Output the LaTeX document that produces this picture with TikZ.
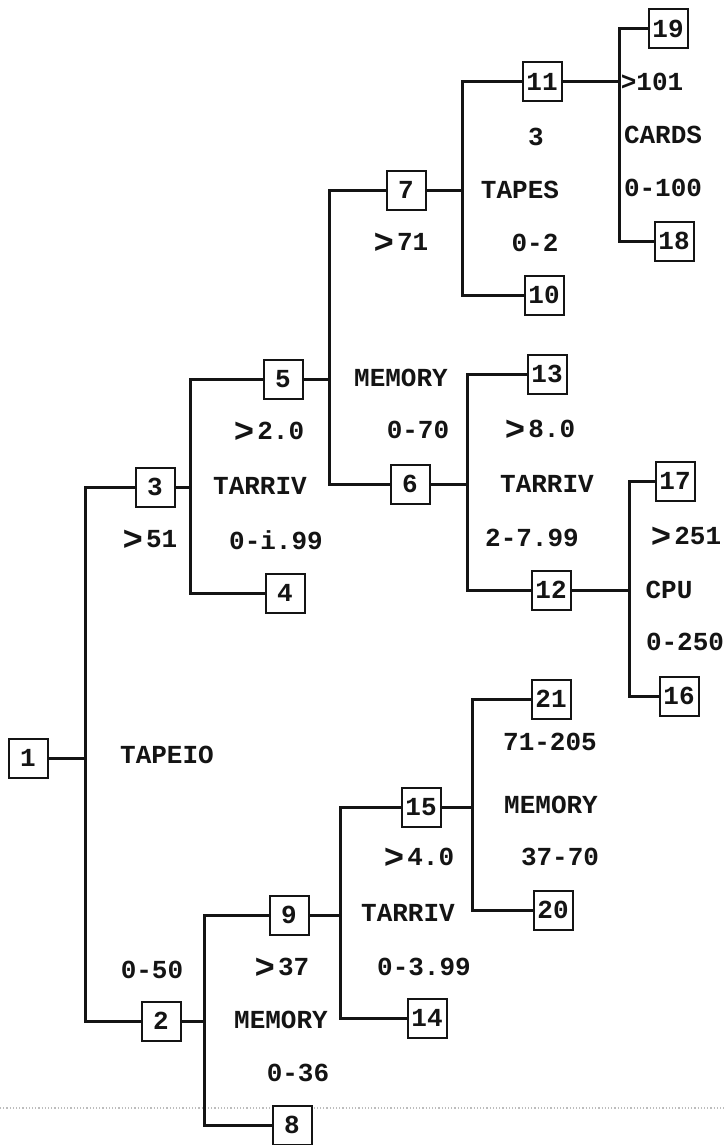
\documentclass[tikz,border=0pt]{standalone}
\usepackage{fontspec}
\setmainfont{Liberation Mono}
\usetikzlibrary{calc}
\definecolor{arbolNegro}{HTML}{141414}
\definecolor{arbolGris}{HTML}{BDBDBD}
\newcommand{\mayor}{\raisebox{-1.6pt}{\fontsize{17}{17}\selectfont>}\hspace{1.5pt}}

\begin{document}
\begin{tikzpicture}[x=0.5pt,y=-0.5pt,
    caja/.style={draw=arbolNegro,line width=1pt,fill=white,minimum width=19.5pt,minimum height=19.5pt,inner sep=0pt,font=\fontsize{13}{15}\selectfont\bfseries,text=arbolNegro},
    etiq/.style={font=\fontsize{13}{15}\selectfont\bfseries,text=arbolNegro,inner sep=0pt},
    rama/.style={draw=arbolNegro,line width=1.5pt}]
  \useasboundingbox (0,0) rectangle (724,1145);
  % linea punteada del escaneo
  \draw[arbolGris,densely dotted,line width=0.6pt] (0,1108) -- (724,1108);
  % cajas numeradas
  \foreach \n/\x/\y in {1/28/758,2/161/1021,3/155/487,4/285/593,5/283/379,6/410/484,7/406/190,
      8/292/1125,9/289/915,10/544/295,11/542/82,12/551/590,13/547/374,14/427/1018,
      15/421/807,16/679/696,17/675/481,18/674/241,19/668/29,20/553/910,21/551/699}
    {\node[caja] (c\n) at (\x,\y) {\n};}
  % ramas: padre / x del tronco / y / hijo arriba / hijo abajo
  \foreach \p/\x/\y/\a/\b in {1/85/758/3/2,3/190/487/5/4,5/329/379/7/6,7/462/190/11/10,
      11/619/82/19/18,6/467/484/13/12,12/629/590/17/16,2/204/1021/9/8,9/340/915/15/14,
      15/472/807/21/20}
    {\coordinate (u\p) at (\x,\y);
     \draw[rama] (c\p) -- (u\p);
     \draw[rama] (c\a.west) -| (u\p) |- (c\b.west);}
  % textos de cada corte
  \foreach \x/\y/\t [count=\i] in {150/540/{\mayor 51},167/755/TAPEIO,152/970/0-50,
      269/432/{\mayor 2.0},260/486/TARRIV,276/540/0-i.99,
      401/243/{\mayor 71},401/378/MEMORY,418/430/0-70,
      536/137/3,520/190/TAPES,535/243/0-2,
      652/82/{>101},663/135/CARDS,663/188/0-100,
      540/430/{\mayor 8.0},547/484/TARRIV,532/538/2-7.99,
      686/537/{\mayor 251},669/590/CPU,685/642/0-250,
      550/742/71-205,551/805/MEMORY,560/857/37-70,
      419/858/{\mayor 4.0},408/913/TARRIV,424/967/0-3.99,
      282/968/{\mayor 37},281/1020/MEMORY,298/1073/0-36}
    {\node[etiq] (e\i) at (\x,\y) {\t};}
\end{tikzpicture}
\end{document}
